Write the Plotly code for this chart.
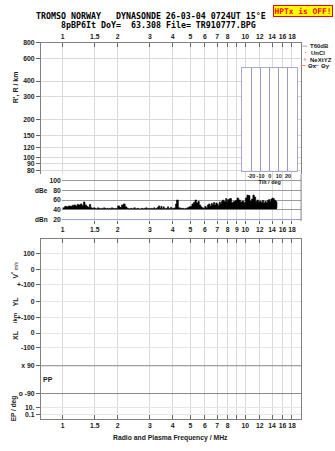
import numpy as np
import plotly.graph_objects as go

W, H = 335, 451


def px(x):
    return x / W


def py(y):
    return 1 - y / H


# ---------------- data ----------------
freq_ticks = [1, 1.5, 2, 3, 4, 5, 6, 7, 8, 9, 10, 12, 14, 16, 18]
top_tick_text = ['1', '1.5', '2', '3', '4', '5', '6', '7', '8', '', '10', '12', '14', '16', '18']
mid_tick_text = ['1', '1.5', '2', '3', '4', '5', '6', '7', '8', '9', '10', '12', '14', '16', '18']
bot_tick_text = top_tick_text

range_ticks = [80, 90, 100, 120, 150, 200, 300, 400, 600, 800]
db_ticks = [20, 40, 60, 80, 100]
tilt_ticks = [-30, -20, -10, 0, 10, 20, 30]
tilt_text = ['', '-20', '-10', '0', '10', '20', '']

lower_tick_text = ['100', '0', '+-100', '0', '+-100', '0', '-100', 'x 90', 'o -90', '10.', '0.1']
lower_tick_rows = [252, 268, 283, 300, 316, 332, 347, 365, 393, 407, 414]
pp_rows = [365, 393]

amp_floor = 41
amp_freq = [
    1.00, 1.025, 1.05, 1.075, 1.10, 1.125, 1.15, 1.175, 1.20, 1.225, 1.25, 1.275, 1.30, 1.325, 1.35, 1.375, 1.40, 1.425, 1.45, 1.475,
    1.50, 1.525, 1.55, 1.575, 1.60, 1.625, 1.65, 1.675, 1.70, 1.725, 1.75, 1.775, 1.80, 1.825, 1.85, 1.875, 1.90, 1.925, 1.95, 1.975,
    2.00, 2.05, 2.10, 2.15, 2.20, 2.25, 2.30, 2.35, 2.40, 2.45, 2.50, 2.55, 2.60, 2.65, 2.70, 2.75, 2.80, 2.85, 2.90, 2.95,
    3.00, 3.05, 3.10, 3.15, 3.20, 3.25, 3.30, 3.35, 3.40, 3.45, 3.50, 3.55, 3.60, 3.65, 3.70, 3.75, 3.80, 3.85, 3.90, 3.95,
    4.00, 4.10, 4.15, 4.20, 4.30, 4.40, 4.50, 4.60, 4.70, 4.80, 4.90, 5.00, 5.10, 5.20, 5.30, 5.40, 5.50, 5.60, 5.70, 5.80, 5.90,
    6.00, 6.10, 6.20, 6.30, 6.40, 6.50, 6.60, 6.70, 6.80, 6.90, 7.00, 7.10, 7.20, 7.30, 7.40, 7.50, 7.60, 7.70, 7.80, 7.90,
    8.00, 8.20, 8.40, 8.60, 8.80, 9.00, 9.20, 9.40, 9.60, 9.80, 10.0, 10.2, 10.4, 10.6, 10.8, 11.0, 11.2, 11.4, 11.6, 11.8,
    12.0, 12.2, 12.4, 12.6, 12.8, 13.0, 13.2, 13.4, 13.6, 13.8, 14.0, 14.2, 14.4, 14.6, 14.8, 14.9,
]
amp_db = [
    44, 47, 46, 48, 47, 49, 50, 48, 51, 50, 52, 49, 56, 50, 47, 45, 51, 44, 43, 44,
    43, 42, 44, 43, 42, 43, 42, 44, 43, 42, 43, 42, 43, 42, 44, 43, 42, 43, 42, 43,
    48, 45, 50, 52, 46, 43, 42, 43, 42, 44, 42, 43, 42, 42, 43, 42, 43, 44, 42, 43,
    42, 43, 42, 44, 42, 43, 45, 48, 43, 47, 42, 46, 43, 42, 43, 46, 42, 43, 45, 42,
    43, 44, 52, 60, 44, 43, 43, 42, 43, 44, 46, 47, 52, 55, 60, 54, 57, 50, 46, 44, 43,
    47, 44, 50, 52, 48, 53, 51, 55, 50, 54, 52, 49, 56, 53, 57, 60, 58, 56, 63, 57,
    61, 63, 55, 57, 59, 64, 60, 56, 58, 55, 64, 70, 69, 58, 62, 70, 66, 57, 60, 56,
    58, 55, 59, 54, 57, 55, 59, 61, 57, 62, 64, 63, 60, 58, 56, 44,
]

# ---------------- geometry ----------------
x_lo, x_hi = float(np.log10(0.76)), float(np.log10(20.2))
px_per_dec = 261 / (x_hi - x_lo)
x2_lo = x_hi - 240 / px_per_dec
r_top = float(np.log10(800))
r_bot = r_top - 133 / 128.6

GRID = '#dadada'
LINE = '#808080'
TXT = '#1a1a1a'
FONT = 'Liberation Sans'
TF = dict(family=FONT, size=6.8, color=TXT, weight='bold')

fig = go.Figure()

# empty traces so that every panel is bound as a subplot
for xa, ya in [('x', 'y'), ('x3', 'y3'), ('x5', 'y5')]:
    fig.add_trace(go.Scatter(x=[], y=[], xaxis=xa, yaxis=ya, mode='lines', showlegend=False,
                             hoverinfo='skip'))

fig.add_trace(go.Scatter(x=amp_freq, y=[amp_floor] * len(amp_freq), xaxis='x2', yaxis='y2',
                         mode='lines', line=dict(width=0, color='black', shape='hv'),
                         showlegend=False, hoverinfo='skip'))
fig.add_trace(go.Scatter(x=amp_freq, y=amp_db, xaxis='x2', yaxis='y2', mode='lines',
                         line=dict(width=0.6, color='black', shape='hv'), fill='tonexty',
                         fillcolor='black', showlegend=False))

xcommon = dict(type='log', tickvals=freq_ticks, showgrid=True, gridcolor=GRID, gridwidth=1,
               zeroline=False, tickfont=TF, ticks='inside', ticklen=4, tickcolor='#666',
               linecolor=LINE, fixedrange=True, tickangle=0, autorange=False)

fig.update_layout(
    width=W, height=H, margin=dict(l=0, r=0, t=0, b=0),
    paper_bgcolor='white', plot_bgcolor='white', showlegend=False,
    xaxis=dict(xcommon, domain=[px(40), px(301)], range=[x_lo, x_hi], anchor='y', side='top',
               ticktext=top_tick_text, showline=True),
    yaxis=dict(domain=[py(172), py(39)], type='log', range=[r_bot, r_top], anchor='x',
               autorange=False,
               tickvals=range_ticks, ticktext=[str(v) for v in range_ticks], ticks='outside',
               ticklen=4, tickcolor='#666', showline=True, mirror=True, linecolor=LINE,
               gridcolor=GRID, zeroline=False, tickfont=TF, tickangle=0),
    xaxis2=dict(xcommon, domain=[px(61), px(301)], range=[x2_lo, x_hi], anchor='y2', side='bottom',
                ticktext=mid_tick_text, showline=False, ticklen=3),
    yaxis2=dict(domain=[py(222), py(172)], range=[10.9, 112.2], anchor='x2', tickvals=db_ticks,
                ticks='', showgrid=True, gridcolor='#9a9a9a', zeroline=False, showline=False,
                tickfont=TF, tickangle=0, autorange=False),
    xaxis3=dict(xcommon, domain=[px(40), px(301)], range=[x_lo, x_hi], anchor='y3', side='bottom',
                ticktext=bot_tick_text, showline=True, mirror='ticks'),
    yaxis3=dict(domain=[py(419), py(237)], range=[419, 237], anchor='x3', tickvals=lower_tick_rows,
                ticktext=lower_tick_text, ticks='outside', ticklen=4, tickcolor='#666',
                showline=True, mirror=True, linecolor=LINE, gridcolor='#e6e6e6',
                zeroline=False, tickfont=TF, tickangle=0, autorange=False),
    xaxis5=dict(domain=[px(242), px(297)], range=[-30, 30], anchor='y5', tickvals=tilt_ticks,
                ticktext=tilt_text, tickfont=dict(family=FONT, size=5.5, color=TXT, weight='bold'),
                ticks='', showgrid=True, gridcolor='#9a9ac0', zeroline=False, showline=True,
                mirror=True, linecolor='#a8a8d0', tickangle=0, autorange=False,
                title=dict(text='Tilt / deg', font=dict(family=FONT, size=5.5, color=TXT, weight='bold'),
                           standoff=0)),
    yaxis5=dict(domain=[py(168), py(65)], range=[0, 1], anchor='x5', showticklabels=False,
                showgrid=False, zeroline=False, showline=True, mirror=True, linecolor='#a8a8d0',
                autorange=False),
)

shapes = []
# white background of the tilt inset
shapes.append(dict(type='rect', xref='x5', yref='y5', x0=-30, x1=30, y0=0, y1=1,
                   fillcolor='white', line=dict(width=0), layer='below'))
# noise (20 dB) line
shapes.append(dict(type='line', xref='x2 domain', yref='y2', x0=0, x1=1, y0=20, y1=20,
                   line=dict(color='#a0a0e0', width=1)))
# right border of dB panel
shapes.append(dict(type='line', xref='x2 domain', yref='y2 domain', x0=1, x1=1, y0=0.06, y1=1,
                   line=dict(color=LINE, width=1)))
# PP +-90 lines
for r in pp_rows:
    shapes.append(dict(type='line', xref='x3 domain', yref='y3', x0=0, x1=1, y0=r, y1=r,
                       line=dict(color='#8a8a8a', width=1)))


def pline(x0, x1, y, color):
    shapes.append(dict(type='line', xref='paper', yref='paper', x0=px(x0), x1=px(x1),
                       y0=py(y), y1=py(y), line=dict(color=color, width=1)))


pline(302.5, 307, 42.5, '#a0a0a0')
pline(300.5, 305.5, 62, '#ff8080')
pline(313, 318.5, 62, '#8080ff')
fig.update_layout(shapes=shapes)

ann = []


def text(x, y, s, size=7, anchor='center', color=TXT, family=FONT, angle=0, **kw):
    ann.append(dict(x=px(x), y=py(y), xref='paper', yref='paper', text=s, showarrow=False,
                    xanchor=anchor, yanchor='middle', textangle=angle,
                    font=dict(family=family, size=size, color=color), **kw))


MONO = 'DejaVu Sans Mono'
text(150, 12.3, '<b>TROMSO NORWAY   DYNASONDE 26-03-04 0724UT 15°E</b>', size=8.3, family=MONO,
     color='black')
text(157.5, 20.7, '<b>8pBP6It DoY=  63.308 File= TR910777.BPG</b>', size=8.3, family=MONO,
     color='black')
text(302.5, 7.5, '<b>HPTx is OFF!</b>', size=7.9, family=MONO, color='#ff0000',
     bgcolor='#ffff00', bordercolor='#ff0000', borderwidth=1, borderpad=0.5)

# legend texts
text(307.5, 42.5, '<b>T60dB</b>', size=6, anchor='left')
text(305, 48.5, '·', size=8, color='black')
text(308.5, 49.3, '<b>UnCl</b>', size=6, anchor='left')
text(304.5, 55.7, '+', size=6.5, color='#ff6699')
text(307.5, 56, '<b>NeXtYZ</b>', size=6, anchor='left')
text(305.5, 62.5, '<b>Θx</b>', size=6, anchor='left')
text(318.5, 62.5, '<b>Θy</b>', size=6, anchor='left')

# axis labels
text(15, 84, "<b>R', R / km</b>", size=7, angle=-90)
text(49, 188, '<b>dBe</b>', size=6.5, anchor='right')
text(49, 217.5, '<b>dBn</b>', size=6.5, anchor='right')
text(14, 268, "<b>V<sup>*</sup></b> <span style='font-size:5px'>m/s</span>", size=7, angle=-90)
text(14, 300, '<b>YL</b>', size=7, angle=-90)
text(14, 317, '<b>/km</b>', size=6, angle=-90)
text(14, 334, '<b>XL</b>', size=7, angle=-90)
text(47, 379, '<b>PP</b>', size=7)
text(13, 408, '<b>EP / deg</b>', size=6.5, angle=-90)
text(170, 438, '<b>Radio and Plasma Frequency / MHz</b>', size=6.8)

fig.update_layout(annotations=ann)
fig.write_html('out.html')
